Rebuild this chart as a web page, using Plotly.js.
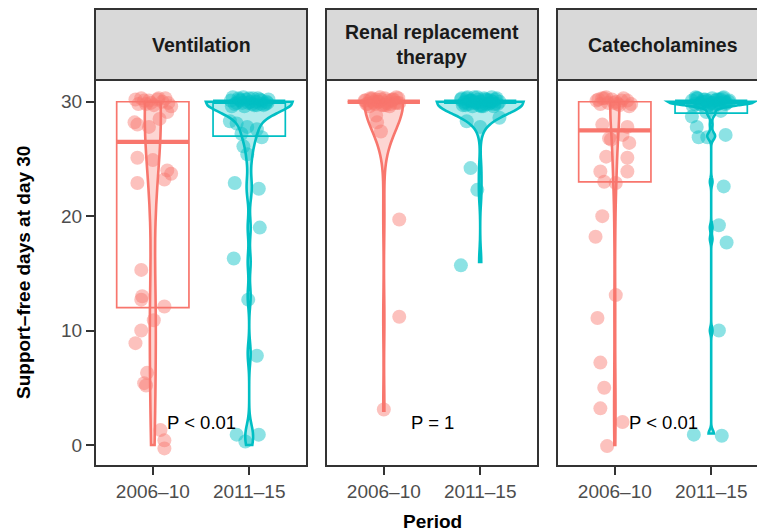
<!DOCTYPE html>
<html><head><meta charset="utf-8">
<script src="https://cdn.plot.ly/plotly-3.0.1.min.js"></script>
<style>html,body{margin:0;padding:0;background:#fff;overflow:hidden}</style>
</head><body><div id="chart" style="width:757px;height:532px"></div>
<script>
// ---------- data ----------
const panelTitles = ['Ventilation', 'Renal replacement<br>therapy', 'Catecholamines'];
const periods = ['2006–10', '2011–15'];
const pLabels = ['P < 0.01', 'P = 1', 'P < 0.01'];

// box statistics (per panel)
const q1Early = [12, 30, 23];
const medianEarly = [26.5, 30, 27.5];
const q3Early = [30, 30, 30];
const q1Late = [27, 30, 29];
const medianLate = [30, 30, 30];
const q3Late = [30, 30, 30];

// jittered points: horizontal offset (category units) and y position as read
const ventEarlyDx = [-0.18,-0.12,-0.07,-0.04,0.01,0.06,0.10,0.16,0.19,-0.15,-0.09,0.05,0.13,-0.02,0.15,-0.19,-0.16,-0.04,0.07,-0.16,0.00,0.15,0.19,-0.16,0.12,-0.12,-0.11,-0.12,0.12,0.01,-0.12,-0.18,-0.06,-0.07,-0.09,0.08,0.12,0.12];
const ventEarlyY  = [30.2,30.3,29.8,30.1,29.7,30.3,30.0,29.9,29.6,29.8,30.1,30.2,30.3,29.9,29.1,28.2,28.0,27.8,28.5,25.1,24.9,24.0,23.7,22.9,23.2,15.3,13.0,12.7,12.1,10.9,10.0,8.9,6.3,5.2,5.4,1.3,0.4,-0.3];
const ventLateDx = [-0.19,-0.15,-0.11,-0.07,-0.03,0.01,0.05,0.09,0.13,0.17,0.20,-0.17,-0.13,-0.09,-0.05,0.00,0.03,0.07,0.11,0.15,0.19,-0.18,-0.10,-0.01,0.04,0.12,0.18,-0.06,0.08,-0.20,-0.13,-0.02,0.08,-0.08,0.13,-0.06,-0.02,-0.15,0.10,0.11,-0.16,-0.01,0.08,-0.13,-0.04,0.10];
const ventLateY  = [30.1,29.8,30.3,29.9,30.2,30.0,29.7,30.3,30.1,29.8,30.2,30.4,29.9,30.1,29.6,30.3,29.8,30.0,30.2,29.7,29.9,29.6,30.2,29.9,30.3,29.8,30.0,30.4,29.7,28.3,28.1,27.8,27.6,27.2,26.9,26.1,25.4,22.9,22.4,19.0,16.3,12.7,7.8,0.9,0.3,0.9];
const renalEarlyDx = [-0.20,-0.17,-0.14,-0.11,-0.08,-0.05,-0.02,0.01,0.04,0.07,0.10,0.13,0.16,-0.19,-0.15,-0.12,-0.09,-0.06,-0.03,0.00,0.03,0.06,0.09,0.12,0.15,-0.18,-0.10,-0.04,0.02,0.08,0.14,-0.13,-0.08,-0.07,-0.03,0.16,0.16,0.00];
const renalEarlyY  = [30.1,29.8,30.3,29.9,30.2,30.0,29.7,30.3,30.1,29.8,30.2,30.4,29.9,30.1,29.6,30.3,29.8,30.0,30.2,29.7,29.9,29.6,30.2,29.9,30.3,29.8,30.0,30.4,29.7,30.1,29.9,30.2,28.8,28.2,27.4,19.7,11.2,3.1];
const renalLateDx = [-0.20,-0.18,-0.16,-0.14,-0.12,-0.10,-0.08,-0.06,-0.04,-0.02,0.00,0.02,0.04,0.06,0.08,0.10,0.12,0.14,0.16,0.18,0.20,-0.19,-0.15,-0.11,-0.07,-0.03,0.01,0.05,0.09,0.13,0.17,-0.17,-0.09,-0.01,0.07,0.15,-0.13,-0.05,0.03,0.11,-0.14,0.20,0.00,-0.10,-0.03,-0.20];
const renalLateY  = [30.2,29.7,30.0,30.3,29.8,30.1,29.6,30.4,29.9,30.2,30.0,29.7,30.3,29.8,30.1,29.9,30.4,29.6,30.2,29.8,30.0,30.3,29.7,30.1,29.9,30.4,29.6,30.2,29.8,30.0,30.3,29.9,30.1,29.7,30.2,29.8,30.4,30.0,29.6,30.1,28.3,28.6,27.8,24.2,22.3,15.7];
const catEarlyDx = [-0.19,-0.15,-0.11,-0.07,-0.03,0.01,0.05,0.09,0.13,0.17,-0.17,-0.09,-0.01,0.07,0.15,-0.13,0.03,-0.13,0.13,-0.04,0.08,0.15,-0.09,0.13,-0.15,0.13,-0.11,0.01,-0.13,-0.20,0.01,-0.18,-0.15,-0.11,-0.15,0.08,-0.08,-0.06];
const catEarlyY  = [30.1,29.8,30.3,29.9,30.2,30.0,29.7,30.3,30.1,29.8,30.2,30.4,29.9,30.1,29.6,30.3,29.8,28.0,27.8,26.7,27.1,26.4,25.2,25.1,23.9,23.9,23.0,22.9,20.0,18.2,13.1,11.1,7.2,5.0,3.2,2.0,-0.1,26.8];
const catLateDx = [-0.20,-0.17,-0.14,-0.11,-0.08,-0.05,-0.02,0.01,0.04,0.07,0.10,0.13,0.16,0.19,-0.19,-0.15,-0.12,-0.09,-0.06,-0.03,0.00,0.03,0.06,0.09,0.12,0.15,0.18,-0.16,-0.10,-0.04,0.02,0.08,0.14,-0.20,-0.05,0.10,-0.15,-0.13,-0.04,0.15,0.13,0.08,0.16,0.08,-0.18,0.11];
const catLateY  = [30.1,29.8,30.3,29.9,30.2,30.0,29.7,30.3,30.1,29.8,30.2,30.4,29.9,30.1,29.6,30.3,29.8,30.0,30.2,29.7,29.9,29.6,30.2,29.9,30.3,29.8,30.0,30.4,29.7,30.1,29.9,30.2,30.0,28.7,29.1,29.2,27.8,26.9,26.9,27.1,22.6,19.2,17.7,10.0,0.9,0.8];

// ---------- styling ----------
const colors = ['#F8766D', '#00BFC4'];
const fillColors = ['rgba(248,118,109,0.30)', 'rgba(0,191,196,0.30)'];
const pointColors = ['rgba(248,118,109,0.45)', 'rgba(0,191,196,0.45)'];
const FONT = 'Liberation Sans, Arial, Helvetica, sans-serif';
const boxHalf = 0.375;
const W = 757, H = 532, ML = 95, MT = 80, MB = 66;
const plotW = W - ML, plotH = H - MT - MB;
const panelPx = [[95, 307], [326, 538], [557, 769]];
const pxPerUnit = 212 / 2.2;

const groups = [
  [[ventEarlyDx, ventEarlyY], [ventLateDx, ventLateY]],
  [[renalEarlyDx, renalEarlyY], [renalLateDx, renalLateY]],
  [[catEarlyDx, catEarlyY], [catLateDx, catLateY]]
];
const q1s = [q1Early, q1Late], meds = [medianEarly, medianLate], q3s = [q3Early, q3Late];

function q7(s, p) { const h = (s.length - 1) * p, lo = Math.floor(h); const hi = Math.min(lo + 1, s.length - 1); return s[lo] + (h - lo) * (s[hi] - s[lo]); }
function nrd0(v) {
  const n = v.length, m = v.reduce((a, b) => a + b, 0) / n;
  const sd = Math.sqrt(v.reduce((a, b) => a + (b - m) * (b - m), 0) / (n - 1));
  const s = [...v].sort((a, b) => a - b);
  let lo = Math.min(sd, (q7(s, 0.75) - q7(s, 0.25)) / 1.34);
  if (!lo) lo = sd || Math.abs(s[0]) || 1;
  return 0.9 * lo * Math.pow(n, -0.2);
}

const violins = [], boxes = [], medians = [], points = [];
const layout = {
  width: W, height: H, margin: {l: ML, r: 0, t: MT, b: MB},
  paper_bgcolor: '#fff', plot_bgcolor: '#fff',
  showlegend: false, hovermode: false,
  violinmode: 'overlay', violingap: 0.1, violingroupgap: 0,
  boxmode: 'overlay',
  font: {family: FONT, color: '#1A1A1A'},
  shapes: [], annotations: []
};

for (let i = 0; i < 3; i++) {
  const sfx = i === 0 ? '' : String(i + 1);
  const xa = 'x' + sfx, ya = 'y' + sfx;
  const d0 = (panelPx[i][0] - ML) / plotW;
  const d1 = Math.min(1, (panelPx[i][1] - ML) / plotW);
  const visW = Math.min(panelPx[i][1], W) - panelPx[i][0];
  layout['xaxis' + sfx] = {
    domain: [d0, d1], anchor: ya, type: 'linear', range: [0.4, 0.4 + visW / pxPerUnit],
    tickvals: [1, 2], ticktext: periods, ticks: 'outside', ticklen: 8, tickwidth: 2, tickcolor: '#333333',
    tickfont: {size: 19, color: '#4D4D4D', family: FONT}, showgrid: false, zeroline: false, showline: false, fixedrange: true
  };
  layout['yaxis' + sfx] = {
    domain: [0, 1], anchor: xa, range: [-1.84, 31.9], showgrid: false, zeroline: false, showline: false, fixedrange: true,
    tickvals: i === 0 ? [0, 10, 20, 30] : [], ticks: i === 0 ? 'outside' : '', ticklen: 8, tickwidth: 2, tickcolor: '#333333',
    showticklabels: i === 0, tickfont: {size: 19, color: '#4D4D4D', family: FONT}
  };
  for (let j = 0; j < 2; j++) {
    const pos = j + 1;
    const [dx, yv] = groups[i][j];
    const vals = yv.map(v => Math.round(v) === 0 ? 0 : Math.round(v));
    violins.push({
      type: 'violin', x0: pos, y: vals, xaxis: xa, yaxis: ya, orientation: 'v',
      spanmode: 'hard', bandwidth: nrd0(vals), scalegroup: 'panel' + i, scalemode: 'width',
      points: false, box: {visible: false}, meanline: {visible: false},
      line: {color: colors[j], width: 2.6}, fillcolor: fillColors[j], hoverinfo: 'skip', name: 'v' + i + j
    });
    boxes.push({
      type: 'box', x: [pos], q1: [q1s[j][i]], median: [meds[j][i]], q3: [q3s[j][i]],
      lowerfence: [q1s[j][i]], upperfence: [q3s[j][i]], xaxis: xa, yaxis: ya,
      width: 2 * boxHalf, whiskerwidth: 0, boxpoints: false,
      line: {color: colors[j], width: 1.7}, fillcolor: 'rgba(0,0,0,0)', hoverinfo: 'skip'
    });
    medians.push({
      type: 'scatter', mode: 'lines', x: [pos - boxHalf, pos + boxHalf], y: [meds[j][i], meds[j][i]],
      xaxis: xa, yaxis: ya, line: {color: colors[j], width: 4.3}, hoverinfo: 'skip'
    });
    points.push({
      type: 'scatter', mode: 'markers', x: dx.map(d => pos + d), y: yv, xaxis: xa, yaxis: ya,
      marker: {size: 14, color: pointColors[j], line: {width: 0}}, hoverinfo: 'skip', cliponaxis: false
    });
  }
  // panel border
  const bx0 = (panelPx[i][0] - ML) / plotW, bx1 = (panelPx[i][1] - ML) / plotW;
  layout.shapes.push({type: 'rect', xref: 'paper', yref: 'paper', x0: bx0, x1: bx1, y0: 0, y1: 1,
    line: {color: '#333333', width: 2}, fillcolor: 'rgba(0,0,0,0)', layer: 'above'});
  // strip
  const sy1 = 1 + (MT - 9) / plotH;
  layout.shapes.push({type: 'rect', xref: 'paper', yref: 'paper', x0: bx0, x1: bx1, y0: 1, y1: sy1,
    line: {color: '#333333', width: 2}, fillcolor: '#D9D9D9', layer: 'below'});
  layout.annotations.push({xref: 'paper', yref: 'paper', x: (bx0 + bx1) / 2, y: (1 + sy1) / 2,
    xanchor: 'center', yanchor: 'middle', showarrow: false, text: '<b>' + panelTitles[i] + '</b>',
    font: {size: 19.5, color: '#1A1A1A', family: FONT}});
  // p-value label
  layout.annotations.push({xref: xa, yref: ya, x: 1.5, y: 2, xanchor: 'center', yanchor: 'middle',
    showarrow: false, text: pLabels[i], font: {size: 18.5, color: '#000000', family: FONT}});
}
// axis titles
layout.annotations.push({xref: 'paper', yref: 'paper', x: (23 - ML) / plotW, y: 0.5, textangle: -90,
  xanchor: 'center', yanchor: 'middle', showarrow: false, text: '<b>Support–free days at day 30</b>',
  font: {size: 19, color: '#000000', family: FONT}});
layout.annotations.push({xref: 'paper', yref: 'paper', x: (432 - ML) / plotW, y: (466 - 521) / plotH,
  xanchor: 'center', yanchor: 'middle', showarrow: false, text: '<b>Period</b>',
  font: {size: 19, color: '#000000', family: FONT}});

Plotly.newPlot('chart', [...violins, ...boxes, ...medians, ...points], layout, {staticPlot: true, displayModeBar: false});
</script></body></html>
